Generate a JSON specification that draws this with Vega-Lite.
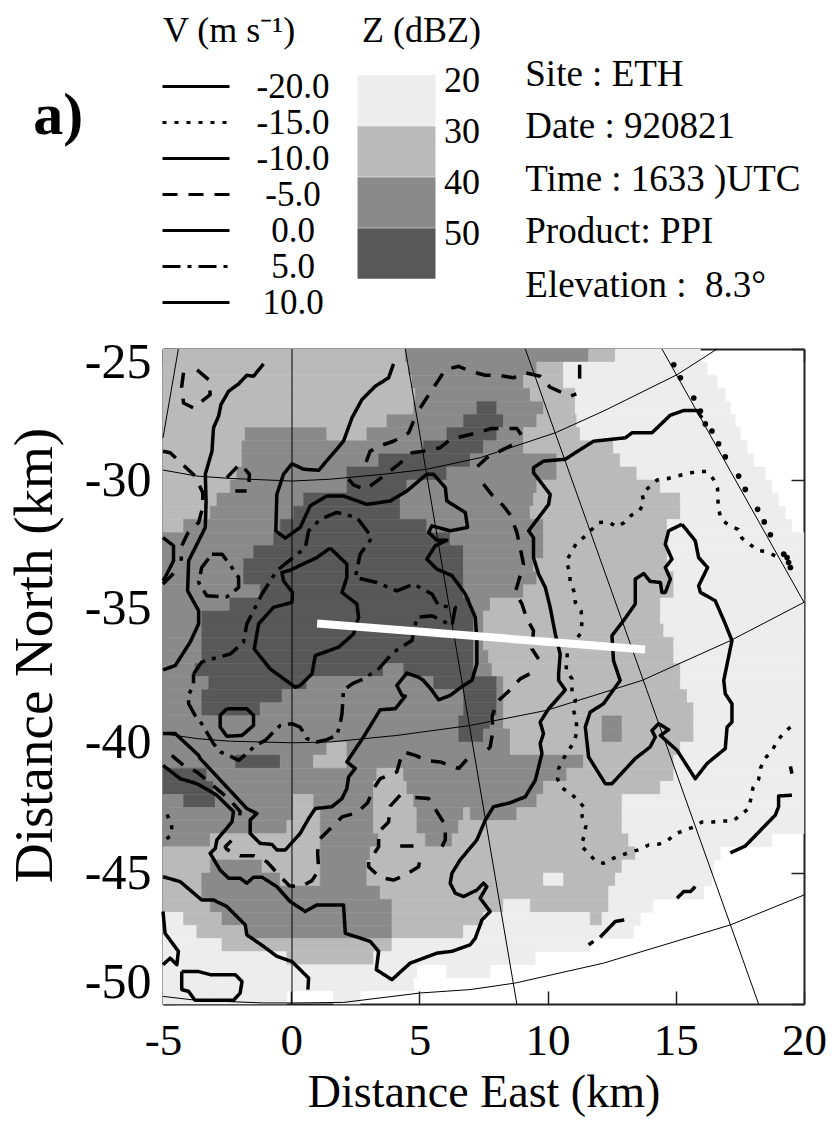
{"$schema":"https://vega.github.io/schema/vega-lite/v6.json","autosize":{"type":"none"},"padding":{"left":163,"top":349,"right":28,"bottom":120},"width":641,"height":655,"background":"white",
"config":{"view":{"stroke":null},"font":"Liberation Serif"},
"datasets":{
"cells":[
{"y":-25,"y2":-25.5,"x":-5,"x2":4.45,"z":"30"},{"y":-25,"y2":-25.5,"x":4.45,"x2":11.6,"z":"40"},{"y":-25,"y2":-25.5,"x":11.6,"x2":12.64,"z":"30"},{"y":-25,"y2":-25.5,"x":12.64,"x2":15.96,"z":"20"},
{"y":-25.5,"y2":-26,"x":-5,"x2":4.58,"z":"30"},{"y":-25.5,"y2":-26,"x":4.58,"x2":9.58,"z":"40"},{"y":-25.5,"y2":-26,"x":9.58,"x2":10.62,"z":"30"},{"y":-25.5,"y2":-26,"x":10.62,"x2":16.22,"z":"20"},
{"y":-26,"y2":-26.5,"x":-5,"x2":4.71,"z":"30"},{"y":-26,"y2":-26.5,"x":4.71,"x2":9.06,"z":"40"},{"y":-26,"y2":-26.5,"x":9.06,"x2":10.62,"z":"30"},{"y":-26,"y2":-26.5,"x":10.62,"x2":16.61,"z":"20"},
{"y":-26.5,"y2":-27,"x":-5,"x2":4.84,"z":"30"},{"y":-26.5,"y2":-27,"x":4.84,"x2":9.32,"z":"40"},{"y":-26.5,"y2":-27,"x":9.32,"x2":11.08,"z":"30"},{"y":-26.5,"y2":-27,"x":11.08,"x2":16.93,"z":"20"},
{"y":-27,"y2":-27.5,"x":-5,"x2":4.77,"z":"30"},{"y":-27,"y2":-27.5,"x":4.77,"x2":7.24,"z":"40"},{"y":-27,"y2":-27.5,"x":7.24,"x2":8.02,"z":"50"},{"y":-27,"y2":-27.5,"x":8.02,"x2":9.84,"z":"40"},{"y":-27,"y2":-27.5,"x":9.84,"x2":11.08,"z":"30"},{"y":-27,"y2":-27.5,"x":11.08,"x2":17.13,"z":"20"},
{"y":-27.5,"y2":-28,"x":-5,"x2":3.73,"z":"30"},{"y":-27.5,"y2":-28,"x":3.73,"x2":6.72,"z":"40"},{"y":-27.5,"y2":-28,"x":6.72,"x2":8.28,"z":"50"},{"y":-27.5,"y2":-28,"x":8.28,"x2":9.58,"z":"40"},{"y":-27.5,"y2":-28,"x":9.58,"x2":11.14,"z":"30"},{"y":-27.5,"y2":-28,"x":11.14,"x2":17.32,"z":"20"},
{"y":-28,"y2":-28.5,"x":-5,"x2":-1.8,"z":"30"},{"y":-28,"y2":-28.5,"x":-1.8,"x2":1.39,"z":"40"},{"y":-28,"y2":-28.5,"x":1.39,"x2":2.95,"z":"30"},{"y":-28,"y2":-28.5,"x":2.95,"x2":6.07,"z":"40"},{"y":-28,"y2":-28.5,"x":6.07,"x2":8.02,"z":"50"},{"y":-28,"y2":-28.5,"x":8.02,"x2":9.06,"z":"40"},{"y":-28,"y2":-28.5,"x":9.06,"x2":11.27,"z":"30"},{"y":-28,"y2":-28.5,"x":11.27,"x2":17.52,"z":"20"},
{"y":-28.5,"y2":-29,"x":-5,"x2":-1.92,"z":"30"},{"y":-28.5,"y2":-29,"x":-1.92,"x2":5.16,"z":"40"},{"y":-28.5,"y2":-29,"x":5.16,"x2":7.5,"z":"50"},{"y":-28.5,"y2":-29,"x":7.5,"x2":9.06,"z":"40"},{"y":-28.5,"y2":-29,"x":9.06,"x2":12.57,"z":"30"},{"y":-28.5,"y2":-29,"x":12.57,"x2":17.78,"z":"20"},
{"y":-29,"y2":-29.5,"x":-5,"x2":-1.92,"z":"30"},{"y":-29,"y2":-29.5,"x":-1.92,"x2":3.41,"z":"40"},{"y":-29,"y2":-29.5,"x":3.41,"x2":6.98,"z":"50"},{"y":-29,"y2":-29.5,"x":6.98,"x2":10.36,"z":"40"},{"y":-29,"y2":-29.5,"x":10.36,"x2":12.83,"z":"30"},{"y":-29,"y2":-29.5,"x":12.83,"x2":18.04,"z":"20"},
{"y":-29.5,"y2":-30,"x":-5,"x2":-2.12,"z":"30"},{"y":-29.5,"y2":-30,"x":-2.12,"x2":2.17,"z":"40"},{"y":-29.5,"y2":-30,"x":2.17,"x2":6.07,"z":"50"},{"y":-29.5,"y2":-30,"x":6.07,"x2":10.36,"z":"40"},{"y":-29.5,"y2":-30,"x":10.36,"x2":13.48,"z":"30"},{"y":-29.5,"y2":-30,"x":13.48,"x2":18.49,"z":"20"},
{"y":-30,"y2":-30.5,"x":-5,"x2":-2.38,"z":"30"},{"y":-30,"y2":-30.5,"x":-2.38,"x2":2.17,"z":"40"},{"y":-30,"y2":-30.5,"x":2.17,"x2":4.51,"z":"50"},{"y":-30,"y2":-30.5,"x":4.51,"x2":9.58,"z":"40"},{"y":-30,"y2":-30.5,"x":9.58,"x2":14.4,"z":"30"},{"y":-30,"y2":-30.5,"x":14.4,"x2":18.75,"z":"20"},
{"y":-30.5,"y2":-31,"x":-5,"x2":-2.9,"z":"30"},{"y":-30.5,"y2":-31,"x":-2.9,"x2":0.48,"z":"40"},{"y":-30.5,"y2":-31,"x":0.48,"x2":4.25,"z":"50"},{"y":-30.5,"y2":-31,"x":4.25,"x2":9.45,"z":"40"},{"y":-30.5,"y2":-31,"x":9.45,"x2":15.18,"z":"30"},{"y":-30.5,"y2":-31,"x":15.18,"x2":19.01,"z":"20"},
{"y":-31,"y2":-31.5,"x":-5,"x2":-3.16,"z":"30"},{"y":-31,"y2":-31.5,"x":-3.16,"x2":0.09,"z":"40"},{"y":-31,"y2":-31.5,"x":0.09,"x2":4.25,"z":"50"},{"y":-31,"y2":-31.5,"x":4.25,"x2":9.32,"z":"40"},{"y":-31,"y2":-31.5,"x":9.32,"x2":15.18,"z":"30"},{"y":-31,"y2":-31.5,"x":15.18,"x2":19.27,"z":"20"},
{"y":-31.5,"y2":-32,"x":-5,"x2":-4.2,"z":"30"},{"y":-31.5,"y2":-32,"x":-4.2,"x2":-0.43,"z":"40"},{"y":-31.5,"y2":-32,"x":-0.43,"x2":5.29,"z":"50"},{"y":-31.5,"y2":-32,"x":5.29,"x2":9.84,"z":"40"},{"y":-31.5,"y2":-32,"x":9.84,"x2":14.66,"z":"30"},{"y":-31.5,"y2":-32,"x":14.66,"x2":19.53,"z":"20"},
{"y":-32,"y2":-32.5,"x":-5,"x2":-0.69,"z":"40"},{"y":-32,"y2":-32.5,"x":-0.69,"x2":6.2,"z":"50"},{"y":-32,"y2":-32.5,"x":6.2,"x2":9.84,"z":"40"},{"y":-32,"y2":-32.5,"x":9.84,"x2":14.66,"z":"30"},{"y":-32,"y2":-32.5,"x":14.66,"x2":20,"z":"20"},
{"y":-32.5,"y2":-33,"x":-5,"x2":-1.47,"z":"40"},{"y":-32.5,"y2":-33,"x":-1.47,"x2":6.72,"z":"50"},{"y":-32.5,"y2":-33,"x":6.72,"x2":9.84,"z":"40"},{"y":-32.5,"y2":-33,"x":9.84,"x2":14.66,"z":"30"},{"y":-32.5,"y2":-33,"x":14.66,"x2":20,"z":"20"},
{"y":-33,"y2":-33.5,"x":-5,"x2":-1.86,"z":"40"},{"y":-33,"y2":-33.5,"x":-1.86,"x2":6.72,"z":"50"},{"y":-33,"y2":-33.5,"x":6.72,"x2":9.45,"z":"40"},{"y":-33,"y2":-33.5,"x":9.45,"x2":14.66,"z":"30"},{"y":-33,"y2":-33.5,"x":14.66,"x2":20,"z":"20"},
{"y":-33.5,"y2":-34,"x":-5,"x2":-1.86,"z":"40"},{"y":-33.5,"y2":-34,"x":-1.86,"x2":6.72,"z":"50"},{"y":-33.5,"y2":-34,"x":6.72,"x2":9.58,"z":"40"},{"y":-33.5,"y2":-34,"x":9.58,"x2":14.92,"z":"30"},{"y":-33.5,"y2":-34,"x":14.92,"x2":20,"z":"20"},
{"y":-34,"y2":-34.5,"x":-5,"x2":-1.21,"z":"40"},{"y":-34,"y2":-34.5,"x":-1.21,"x2":6.72,"z":"50"},{"y":-34,"y2":-34.5,"x":6.72,"x2":9.06,"z":"40"},{"y":-34,"y2":-34.5,"x":9.06,"x2":14.92,"z":"30"},{"y":-34,"y2":-34.5,"x":14.92,"x2":20,"z":"20"},
{"y":-34.5,"y2":-35,"x":-5,"x2":-2.4,"z":"40"},{"y":-34.5,"y2":-35,"x":-2.4,"x2":7,"z":"50"},{"y":-34.5,"y2":-35,"x":7,"x2":7.76,"z":"40"},{"y":-34.5,"y2":-35,"x":7.76,"x2":14.4,"z":"30"},{"y":-34.5,"y2":-35,"x":14.4,"x2":20,"z":"20"},
{"y":-35,"y2":-35.5,"x":-5,"x2":-3.49,"z":"40"},{"y":-35,"y2":-35.5,"x":-3.49,"x2":7.11,"z":"50"},{"y":-35,"y2":-35.5,"x":7.11,"x2":7.5,"z":"40"},{"y":-35,"y2":-35.5,"x":7.5,"x2":14.4,"z":"30"},{"y":-35,"y2":-35.5,"x":14.4,"x2":20,"z":"20"},
{"y":-35.5,"y2":-36,"x":-5,"x2":-3.49,"z":"40"},{"y":-35.5,"y2":-36,"x":-3.49,"x2":7.11,"z":"50"},{"y":-35.5,"y2":-36,"x":7.11,"x2":7.5,"z":"40"},{"y":-35.5,"y2":-36,"x":7.5,"x2":14.53,"z":"30"},{"y":-35.5,"y2":-36,"x":14.53,"x2":20,"z":"20"},
{"y":-36,"y2":-36.5,"x":-5,"x2":-3.49,"z":"40"},{"y":-36,"y2":-36.5,"x":-3.49,"x2":7.11,"z":"50"},{"y":-36,"y2":-36.5,"x":7.11,"x2":7.5,"z":"40"},{"y":-36,"y2":-36.5,"x":7.5,"x2":14.92,"z":"30"},{"y":-36,"y2":-36.5,"x":14.92,"x2":20,"z":"20"},
{"y":-36.5,"y2":-37,"x":-5,"x2":-3.49,"z":"40"},{"y":-36.5,"y2":-37,"x":-3.49,"x2":7.11,"z":"50"},{"y":-36.5,"y2":-37,"x":7.11,"x2":7.7,"z":"40"},{"y":-36.5,"y2":-37,"x":7.7,"x2":14.92,"z":"30"},{"y":-36.5,"y2":-37,"x":14.92,"x2":20,"z":"20"},
{"y":-37,"y2":-37.5,"x":-5,"x2":-3.75,"z":"40"},{"y":-37,"y2":-37.5,"x":-3.75,"x2":3.6,"z":"50"},{"y":-37,"y2":-37.5,"x":3.6,"x2":4.38,"z":"40"},{"y":-37,"y2":-37.5,"x":4.38,"x2":7.11,"z":"50"},{"y":-37,"y2":-37.5,"x":7.11,"x2":7.83,"z":"40"},{"y":-37,"y2":-37.5,"x":7.83,"x2":15.18,"z":"30"},{"y":-37,"y2":-37.5,"x":15.18,"x2":20,"z":"20"},
{"y":-37.5,"y2":-38,"x":-5,"x2":-3.22,"z":"40"},{"y":-37.5,"y2":-38,"x":-3.22,"x2":0.61,"z":"50"},{"y":-37.5,"y2":-38,"x":0.61,"x2":5.55,"z":"40"},{"y":-37.5,"y2":-38,"x":5.55,"x2":8.02,"z":"50"},{"y":-37.5,"y2":-38,"x":8.02,"x2":8.28,"z":"40"},{"y":-37.5,"y2":-38,"x":8.28,"x2":15.18,"z":"30"},{"y":-37.5,"y2":-38,"x":15.18,"x2":20,"z":"20"},
{"y":-38,"y2":-38.5,"x":-5,"x2":-3.49,"z":"40"},{"y":-38,"y2":-38.5,"x":-3.49,"x2":-0.36,"z":"50"},{"y":-38,"y2":-38.5,"x":-0.36,"x2":6.72,"z":"40"},{"y":-38,"y2":-38.5,"x":6.72,"x2":8.02,"z":"50"},{"y":-38,"y2":-38.5,"x":8.02,"x2":8.28,"z":"40"},{"y":-38,"y2":-38.5,"x":8.28,"x2":15.44,"z":"30"},{"y":-38,"y2":-38.5,"x":15.44,"x2":20,"z":"20"},
{"y":-38.5,"y2":-39,"x":-5,"x2":-3.49,"z":"40"},{"y":-38.5,"y2":-39,"x":-3.49,"x2":-1.21,"z":"50"},{"y":-38.5,"y2":-39,"x":-1.21,"x2":6.72,"z":"40"},{"y":-38.5,"y2":-39,"x":6.72,"x2":8.02,"z":"50"},{"y":-38.5,"y2":-39,"x":8.02,"x2":8.28,"z":"40"},{"y":-38.5,"y2":-39,"x":8.28,"x2":15.7,"z":"30"},{"y":-38.5,"y2":-39,"x":15.7,"x2":20,"z":"20"},
{"y":-39,"y2":-39.5,"x":-5,"x2":6.53,"z":"40"},{"y":-39,"y2":-39.5,"x":6.53,"x2":7.76,"z":"50"},{"y":-39,"y2":-39.5,"x":7.76,"x2":8.28,"z":"40"},{"y":-39,"y2":-39.5,"x":8.28,"x2":12.12,"z":"30"},{"y":-39,"y2":-39.5,"x":12.12,"x2":12.9,"z":"40"},{"y":-39,"y2":-39.5,"x":12.9,"x2":15.7,"z":"30"},{"y":-39,"y2":-39.5,"x":15.7,"x2":20,"z":"20"},
{"y":-39.5,"y2":-40,"x":-5,"x2":6.53,"z":"40"},{"y":-39.5,"y2":-40,"x":6.53,"x2":7.5,"z":"50"},{"y":-39.5,"y2":-40,"x":7.5,"x2":8.54,"z":"40"},{"y":-39.5,"y2":-40,"x":8.54,"x2":12.12,"z":"30"},{"y":-39.5,"y2":-40,"x":12.12,"x2":12.9,"z":"40"},{"y":-39.5,"y2":-40,"x":12.9,"x2":15.7,"z":"30"},{"y":-39.5,"y2":-40,"x":15.7,"x2":20,"z":"20"},
{"y":-40,"y2":-40.5,"x":-5,"x2":1.39,"z":"40"},{"y":-40,"y2":-40.5,"x":1.39,"x2":2.17,"z":"30"},{"y":-40,"y2":-40.5,"x":2.17,"x2":8.54,"z":"40"},{"y":-40,"y2":-40.5,"x":8.54,"x2":15.18,"z":"30"},{"y":-40,"y2":-40.5,"x":15.18,"x2":20,"z":"20"},
{"y":-40.5,"y2":-41,"x":-5,"x2":-2.18,"z":"40"},{"y":-40.5,"y2":-41,"x":-2.18,"x2":-0.43,"z":"50"},{"y":-40.5,"y2":-41,"x":-0.43,"x2":0.87,"z":"40"},{"y":-40.5,"y2":-41,"x":0.87,"x2":2.17,"z":"30"},{"y":-40.5,"y2":-41,"x":2.17,"x2":11.4,"z":"40"},{"y":-40.5,"y2":-41,"x":11.4,"x2":14.92,"z":"30"},{"y":-40.5,"y2":-41,"x":14.92,"x2":20,"z":"20"},
{"y":-41,"y2":-41.5,"x":-5,"x2":-3.29,"z":"50"},{"y":-41,"y2":-41.5,"x":-3.29,"x2":3.34,"z":"40"},{"y":-41,"y2":-41.5,"x":3.34,"x2":4.38,"z":"30"},{"y":-41,"y2":-41.5,"x":4.38,"x2":10.75,"z":"40"},{"y":-41,"y2":-41.5,"x":10.75,"x2":14.92,"z":"30"},{"y":-41,"y2":-41.5,"x":14.92,"x2":20,"z":"20"},
{"y":-41.5,"y2":-42,"x":-5,"x2":-3.03,"z":"50"},{"y":-41.5,"y2":-42,"x":-3.03,"x2":3.21,"z":"40"},{"y":-41.5,"y2":-42,"x":3.21,"x2":4.51,"z":"30"},{"y":-41.5,"y2":-42,"x":4.51,"x2":9.84,"z":"40"},{"y":-41.5,"y2":-42,"x":9.84,"x2":14.4,"z":"30"},{"y":-41.5,"y2":-42,"x":14.4,"x2":20,"z":"20"},
{"y":-42,"y2":-42.5,"x":-5,"x2":-4.2,"z":"40"},{"y":-42,"y2":-42.5,"x":-4.2,"x2":-2.96,"z":"50"},{"y":-42,"y2":-42.5,"x":-2.96,"x2":0.09,"z":"40"},{"y":-42,"y2":-42.5,"x":0.09,"x2":0.87,"z":"30"},{"y":-42,"y2":-42.5,"x":0.87,"x2":3.21,"z":"40"},{"y":-42,"y2":-42.5,"x":3.21,"x2":4.77,"z":"30"},{"y":-42,"y2":-42.5,"x":4.77,"x2":9.58,"z":"40"},{"y":-42,"y2":-42.5,"x":9.58,"x2":12.9,"z":"30"},{"y":-42,"y2":-42.5,"x":12.9,"x2":20,"z":"20"},
{"y":-42.5,"y2":-43,"x":-5,"x2":0.09,"z":"40"},{"y":-42.5,"y2":-43,"x":0.09,"x2":1.13,"z":"30"},{"y":-42.5,"y2":-43,"x":1.13,"x2":3.21,"z":"40"},{"y":-42.5,"y2":-43,"x":3.21,"x2":4.9,"z":"30"},{"y":-42.5,"y2":-43,"x":4.9,"x2":6.72,"z":"40"},{"y":-42.5,"y2":-43,"x":6.72,"x2":6.98,"z":"30"},{"y":-42.5,"y2":-43,"x":6.98,"x2":8.8,"z":"40"},{"y":-42.5,"y2":-43,"x":8.8,"x2":12.9,"z":"30"},{"y":-42.5,"y2":-43,"x":12.9,"x2":20,"z":"20"},
{"y":-43,"y2":-43.5,"x":-5,"x2":-0.17,"z":"40"},{"y":-43,"y2":-43.5,"x":-0.17,"x2":1.13,"z":"30"},{"y":-43,"y2":-43.5,"x":1.13,"x2":3.21,"z":"40"},{"y":-43,"y2":-43.5,"x":3.21,"x2":4.9,"z":"30"},{"y":-43,"y2":-43.5,"x":4.9,"x2":6.53,"z":"40"},{"y":-43,"y2":-43.5,"x":6.53,"x2":12.9,"z":"30"},{"y":-43,"y2":-43.5,"x":12.9,"x2":20,"z":"20"},
{"y":-43.5,"y2":-44,"x":-5,"x2":-3.16,"z":"40"},{"y":-43.5,"y2":-44,"x":-3.16,"x2":1.13,"z":"30"},{"y":-43.5,"y2":-44,"x":1.13,"x2":3.41,"z":"40"},{"y":-43.5,"y2":-44,"x":3.41,"x2":5.23,"z":"30"},{"y":-43.5,"y2":-44,"x":5.23,"x2":6.27,"z":"40"},{"y":-43.5,"y2":-44,"x":6.27,"x2":13.16,"z":"30"},{"y":-43.5,"y2":-44,"x":13.16,"x2":18.75,"z":"20"},
{"y":-44,"y2":-44.5,"x":-5,"x2":1.13,"z":"30"},{"y":-44,"y2":-44.5,"x":1.13,"x2":3.08,"z":"40"},{"y":-44,"y2":-44.5,"x":3.08,"x2":13.42,"z":"30"},{"y":-44,"y2":-44.5,"x":13.42,"x2":16.74,"z":"20"},
{"y":-44.5,"y2":-45,"x":-5,"x2":-3.16,"z":"30"},{"y":-44.5,"y2":-45,"x":-3.16,"x2":-1.14,"z":"40"},{"y":-44.5,"y2":-45,"x":-1.14,"x2":1.13,"z":"30"},{"y":-44.5,"y2":-45,"x":1.13,"x2":2.95,"z":"40"},{"y":-44.5,"y2":-45,"x":2.95,"x2":12.9,"z":"30"},{"y":-44.5,"y2":-45,"x":12.9,"x2":16.48,"z":"20"},
{"y":-45,"y2":-45.5,"x":-5,"x2":-3.49,"z":"30"},{"y":-45,"y2":-45.5,"x":-3.49,"x2":-0.43,"z":"40"},{"y":-45,"y2":-45.5,"x":-0.43,"x2":1.13,"z":"30"},{"y":-45,"y2":-45.5,"x":1.13,"x2":2.95,"z":"40"},{"y":-45,"y2":-45.5,"x":2.95,"x2":9.84,"z":"30"},{"y":-45,"y2":-45.5,"x":9.84,"x2":10.62,"z":"20"},{"y":-45,"y2":-45.5,"x":10.62,"x2":12.64,"z":"30"},{"y":-45,"y2":-45.5,"x":12.64,"x2":16.41,"z":"20"},
{"y":-45.5,"y2":-46,"x":-5,"x2":-3.49,"z":"30"},{"y":-45.5,"y2":-46,"x":-3.49,"x2":3.47,"z":"40"},{"y":-45.5,"y2":-46,"x":3.47,"x2":12.38,"z":"30"},{"y":-45.5,"y2":-46,"x":12.38,"x2":16.09,"z":"20"},
{"y":-46,"y2":-46.5,"x":-5,"x2":-3.16,"z":"30"},{"y":-46,"y2":-46.5,"x":-3.16,"x2":3.93,"z":"40"},{"y":-46,"y2":-46.5,"x":3.93,"x2":8.28,"z":"30"},{"y":-46,"y2":-46.5,"x":8.28,"x2":9.32,"z":"20"},{"y":-46,"y2":-46.5,"x":9.32,"x2":12.38,"z":"30"},{"y":-46,"y2":-46.5,"x":12.38,"x2":14.1,"z":"20"},
{"y":-46.5,"y2":-47,"x":-5,"x2":-4.2,"z":"20"},{"y":-46.5,"y2":-47,"x":-4.2,"x2":-2.7,"z":"30"},{"y":-46.5,"y2":-47,"x":-2.7,"x2":3.93,"z":"40"},{"y":-46.5,"y2":-47,"x":3.93,"x2":7.5,"z":"30"},{"y":-46.5,"y2":-47,"x":7.5,"x2":11.66,"z":"20"},{"y":-46.5,"y2":-47,"x":11.66,"x2":12.12,"z":"30"},{"y":-46.5,"y2":-47,"x":12.12,"x2":13.61,"z":"20"},
{"y":-47,"y2":-47.5,"x":-5,"x2":-3.68,"z":"20"},{"y":-47,"y2":-47.5,"x":-3.68,"x2":-1.73,"z":"30"},{"y":-47,"y2":-47.5,"x":-1.73,"x2":3.93,"z":"40"},{"y":-47,"y2":-47.5,"x":3.93,"x2":6.72,"z":"30"},{"y":-47,"y2":-47.5,"x":6.72,"x2":13.35,"z":"20"},
{"y":-47.5,"y2":-48,"x":-5,"x2":-2.7,"z":"20"},{"y":-47.5,"y2":-48,"x":-2.7,"x2":3.93,"z":"30"},{"y":-47.5,"y2":-48,"x":3.93,"x2":11.66,"z":"20"},
{"y":-48,"y2":-48.5,"x":-5,"x2":-0.17,"z":"20"},{"y":-48,"y2":-48.5,"x":-0.17,"x2":3.21,"z":"30"},{"y":-48,"y2":-48.5,"x":3.21,"x2":9.52,"z":"20"},
{"y":-48.5,"y2":-49,"x":-5,"x2":4.9,"z":"20"},{"y":-48.5,"y2":-49,"x":6.07,"x2":7.76,"z":"20"},
{"y":-49,"y2":-49.5,"x":-5,"x2":4.77,"z":"20"},
{"y":-49.5,"y2":-50,"x":-5,"x2":-0.17,"z":"20"},{"y":-49.5,"y2":-50,"x":1.65,"x2":2.69,"z":"20"}
],
"grid":[
{"c":"r1","x":-5,"y":-29.62},{"c":"r1","x":-3.68,"y":-29.85},{"c":"r1","x":-2.38,"y":-29.94},{"c":"r1","x":0.03,"y":-30.04},{"c":"r1","x":1.52,"y":-29.97},{"c":"r1","x":3.6,"y":-29.78},{"c":"r1","x":5.29,"y":-29.59},{"c":"r1","x":7.37,"y":-29.15},{"c":"r1","x":10.3,"y":-28.2},{"c":"r1","x":12.18,"y":-27.37},{"c":"r1","x":15.05,"y":-25.98},{"c":"r1","x":16.61,"y":-25},
{"c":"r2","x":-5,"y":-39.68},{"c":"r2","x":-3.68,"y":-39.87},{"c":"r2","x":-2.38,"y":-39.97},{"c":"r2","x":0.03,"y":-40.03},{"c":"r2","x":1.52,"y":-40},{"c":"r2","x":4.12,"y":-39.75},{"c":"r2","x":6.98,"y":-39.37},{"c":"r2","x":9.97,"y":-38.79},{"c":"r2","x":13.68,"y":-37.65},{"c":"r2","x":17.13,"y":-36.13},{"c":"r2","x":20,"y":-34.67},
{"c":"r3","x":-5,"y":-49.71},{"c":"r3","x":-3.68,"y":-49.86},{"c":"r3","x":-1.08,"y":-49.96},{"c":"r3","x":0.09,"y":-49.96},{"c":"r3","x":2.04,"y":-49.94},{"c":"r3","x":5.03,"y":-49.58},{"c":"r3","x":6.98,"y":-49.45},{"c":"r3","x":8.74,"y":-49.2},{"c":"r3","x":12.18,"y":-48.44},{"c":"r3","x":17.13,"y":-46.98},{"c":"r3","x":20,"y":-45.84},
{"c":"a0","x":0.03,"y":-25},{"c":"a0","x":0.03,"y":-50},
{"c":"a1","x":-4.4,"y":-25},{"c":"a1","x":-5,"y":-28.39},
{"c":"a2","x":4.45,"y":-25},{"c":"a2","x":8.8,"y":-50},
{"c":"a3","x":9.13,"y":-25},{"c":"a3","x":18.23,"y":-50},
{"c":"a4","x":14.46,"y":-25},{"c":"a4","x":20,"y":-34.67}
],
"contours":[
{"c":"A","v":"0.0","x":-1.08,"y":-25.57},{"c":"A","v":"0.0","x":-1.47,"y":-26.04},{"c":"A","v":"0.0","x":-1.73,"y":-26},{"c":"A","v":"0.0","x":-2.05,"y":-26.33},{"c":"A","v":"0.0","x":-2.44,"y":-26.61},{"c":"A","v":"0.0","x":-2.74,"y":-27.12},{"c":"A","v":"0.0","x":-2.83,"y":-27.56},{"c":"A","v":"0.0","x":-3.03,"y":-28.01},{"c":"A","v":"0.0","x":-3.09,"y":-28.9},{"c":"A","v":"0.0","x":-3.35,"y":-29.78},{"c":"A","v":"0.0","x":-3.32,"y":-30.8},{"c":"A","v":"0.0","x":-3.35,"y":-31.81},{"c":"A","v":"0.0","x":-3.61,"y":-32.32},{"c":"A","v":"0.0","x":-4,"y":-33.08},{"c":"A","v":"0.0","x":-4.04,"y":-34.23},{"c":"A","v":"0.0","x":-3.61,"y":-34.99},{"c":"A","v":"0.0","x":-3.61,"y":-35.49},{"c":"A","v":"0.0","x":-3.94,"y":-36.19},{"c":"A","v":"0.0","x":-4.52,"y":-37.08},{"c":"A","v":"0.0","x":-5,"y":-37.25},
{"c":"B","v":"0.0","x":3.99,"y":-25.57},{"c":"B","v":"0.0","x":3.8,"y":-26.1},{"c":"B","v":"0.0","x":3.28,"y":-26.42},{"c":"B","v":"0.0","x":2.76,"y":-26.93},{"c":"B","v":"0.0","x":2.37,"y":-27.63},{"c":"B","v":"0.0","x":2.04,"y":-28.52},{"c":"B","v":"0.0","x":1.07,"y":-29.63},{"c":"B","v":"0.0","x":0.48,"y":-29.59},{"c":"B","v":"0.0","x":0.03,"y":-29.38},{"c":"B","v":"0.0","x":-0.3,"y":-29.78},{"c":"B","v":"0.0","x":-0.56,"y":-30.55},{"c":"B","v":"0.0","x":-0.6,"y":-31.94},{"c":"B","v":"0.0","x":-0.23,"y":-32.22},{"c":"B","v":"0.0","x":0.35,"y":-31.81},{"c":"B","v":"0.0","x":0.74,"y":-30.99},{"c":"B","v":"0.0","x":1.39,"y":-30.61},{"c":"B","v":"0.0","x":2.04,"y":-30.61},{"c":"B","v":"0.0","x":2.95,"y":-30.93},{"c":"B","v":"0.0","x":3.86,"y":-30.8},{"c":"B","v":"0.0","x":4.51,"y":-30.42},{"c":"B","v":"0.0","x":5.29,"y":-29.78},{"c":"B","v":"0.0","x":5.55,"y":-29.78},{"c":"B","v":"0.0","x":6.01,"y":-30.29},{"c":"B","v":"0.0","x":6.07,"y":-30.8},{"c":"B","v":"0.0","x":6.79,"y":-31.24},{"c":"B","v":"0.0","x":6.88,"y":-31.81},{"c":"B","v":"0.0","x":6.2,"y":-31.94},{"c":"B","v":"0.0","x":5.49,"y":-31.75},{"c":"B","v":"0.0","x":5.36,"y":-32},{"c":"B","v":"0.0","x":5.68,"y":-32.3},{"c":"B","v":"0.0","x":6.07,"y":-32.3},{"c":"B","v":"0.0","x":5.62,"y":-32.51},{"c":"B","v":"0.0","x":5.29,"y":-33.02},{"c":"B","v":"0.0","x":5.68,"y":-33.4},{"c":"B","v":"0.0","x":6.27,"y":-33.65},{"c":"B","v":"0.0","x":6.79,"y":-34.35},{"c":"B","v":"0.0","x":7.18,"y":-35.24},{"c":"B","v":"0.0","x":7.24,"y":-36.13},{"c":"B","v":"0.0","x":7.24,"y":-37.02},{"c":"B","v":"0.0","x":7.05,"y":-37.65},{"c":"B","v":"0.0","x":6.72,"y":-37.84},{"c":"B","v":"0.0","x":6.2,"y":-38.22},{"c":"B","v":"0.0","x":5.75,"y":-38.39},{"c":"B","v":"0.0","x":5.49,"y":-38.03},{"c":"B","v":"0.0","x":5.16,"y":-37.65},{"c":"B","v":"0.0","x":4.97,"y":-37.53},{"c":"B","v":"0.0","x":4.51,"y":-37.37},{"c":"B","v":"0.0","x":4.12,"y":-37.84},{"c":"B","v":"0.0","x":4.32,"y":-38.22},{"c":"B","v":"0.0","x":4.45,"y":-38.25},{"c":"B","v":"0.0","x":4.06,"y":-38.73},{"c":"B","v":"0.0","x":3.47,"y":-38.77},{"c":"B","v":"0.0","x":2.82,"y":-39.81},{"c":"B","v":"0.0","x":2.17,"y":-40.76},{"c":"B","v":"0.0","x":2.5,"y":-41.01},{"c":"B","v":"0.0","x":2.24,"y":-41.33},{"c":"B","v":"0.0","x":2.17,"y":-41.78},{"c":"B","v":"0.0","x":1.98,"y":-42.16},{"c":"B","v":"0.0","x":1.59,"y":-42.47},{"c":"B","v":"0.0","x":0.94,"y":-42.54},{"c":"B","v":"0.0","x":0.68,"y":-42.92},{"c":"B","v":"0.0","x":0.35,"y":-43.49},{"c":"B","v":"0.0","x":-0.23,"y":-44.12},{"c":"B","v":"0.0","x":-0.56,"y":-44.12},{"c":"B","v":"0.0","x":-0.75,"y":-43.91},{"c":"B","v":"0.0","x":-1.21,"y":-43.87},{"c":"B","v":"0.0","x":-1.6,"y":-43.49},{"c":"B","v":"0.0","x":-1.6,"y":-42.98},{"c":"B","v":"0.0","x":-1.34,"y":-42.73},{"c":"B","v":"0.0","x":-1.73,"y":-42.54},{"c":"B","v":"0.0","x":-3.55,"y":-40.63},{"c":"B","v":"0.0","x":-3.61,"y":-40.51},{"c":"B","v":"0.0","x":-4.52,"y":-39.68},{"c":"B","v":"0.0","x":-5,"y":-39.68},
{"c":"C","v":"10.0","x":1.52,"y":-32.6},{"c":"C","v":"10.0","x":1,"y":-32.96},{"c":"C","v":"10.0","x":-0.04,"y":-33.44},{"c":"C","v":"10.0","x":-0.36,"y":-33.53},{"c":"C","v":"10.0","x":-0.3,"y":-33.85},{"c":"C","v":"10.0","x":0.05,"y":-34.29},{"c":"C","v":"10.0","x":0.03,"y":-34.67},{"c":"C","v":"10.0","x":-0.69,"y":-34.86},{"c":"C","v":"10.0","x":-1.27,"y":-35.49},{"c":"C","v":"10.0","x":-1.44,"y":-36.45},{"c":"C","v":"10.0","x":-0.82,"y":-37.21},{"c":"C","v":"10.0","x":0.16,"y":-37.91},{"c":"C","v":"10.0","x":0.35,"y":-37.84},{"c":"C","v":"10.0","x":0.81,"y":-37.4},{"c":"C","v":"10.0","x":0.94,"y":-36.7},{"c":"C","v":"10.0","x":1.85,"y":-36.38},{"c":"C","v":"10.0","x":2.43,"y":-35.88},{"c":"C","v":"10.0","x":2.63,"y":-35.24},{"c":"C","v":"10.0","x":2.56,"y":-34.73},{"c":"C","v":"10.0","x":1.98,"y":-34.29},{"c":"C","v":"10.0","x":2.17,"y":-33.72},{"c":"C","v":"10.0","x":2.17,"y":-33.21},{"c":"C","v":"10.0","x":1.52,"y":-32.6},
{"c":"D","v":"10.0","x":-2.51,"y":-38.73},{"c":"D","v":"10.0","x":-1.73,"y":-38.73},{"c":"D","v":"10.0","x":-1.47,"y":-38.98},{"c":"D","v":"10.0","x":-1.47,"y":-39.37},{"c":"D","v":"10.0","x":-1.92,"y":-39.75},{"c":"D","v":"10.0","x":-2.51,"y":-39.78},{"c":"D","v":"10.0","x":-2.77,"y":-39.43},{"c":"D","v":"10.0","x":-2.77,"y":-38.98},{"c":"D","v":"10.0","x":-2.51,"y":-38.73},
{"c":"E","v":"-10.0","x":-5,"y":-40.89},{"c":"E","v":"-10.0","x":-4.33,"y":-41.4},{"c":"E","v":"-10.0","x":-3.68,"y":-41.59},{"c":"E","v":"-10.0","x":-2.9,"y":-42.03},{"c":"E","v":"-10.0","x":-2.25,"y":-42.66},{"c":"E","v":"-10.0","x":-2.31,"y":-43.05},{"c":"E","v":"-10.0","x":-2.9,"y":-43.74},{"c":"E","v":"-10.0","x":-2.96,"y":-44.06},{"c":"E","v":"-10.0","x":-3.16,"y":-44.25},{"c":"E","v":"-10.0","x":-2.77,"y":-44.89},{"c":"E","v":"-10.0","x":-2.44,"y":-45.2},{"c":"E","v":"-10.0","x":-1.99,"y":-45.2},{"c":"E","v":"-10.0","x":-1.73,"y":-45.39},{"c":"E","v":"-10.0","x":-1.47,"y":-45.16},{"c":"E","v":"-10.0","x":-1.14,"y":-45.16},{"c":"E","v":"-10.0","x":-0.56,"y":-45.52},{"c":"E","v":"-10.0","x":-0.04,"y":-46.09},{"c":"E","v":"-10.0","x":0.55,"y":-46.47},{"c":"E","v":"-10.0","x":1,"y":-46.22},{"c":"E","v":"-10.0","x":2.04,"y":-46.22},{"c":"E","v":"-10.0","x":2.11,"y":-47.3},{"c":"E","v":"-10.0","x":3.08,"y":-47.61},{"c":"E","v":"-10.0","x":3.41,"y":-47.99},{"c":"E","v":"-10.0","x":3.32,"y":-48.69},{"c":"E","v":"-10.0","x":3.93,"y":-49.07},{"c":"E","v":"-10.0","x":4.64,"y":-48.44},{"c":"E","v":"-10.0","x":5.68,"y":-48.06},{"c":"E","v":"-10.0","x":6.27,"y":-47.99},{"c":"E","v":"-10.0","x":6.98,"y":-47.74},{"c":"E","v":"-10.0","x":7.18,"y":-47.49},{"c":"E","v":"-10.0","x":7.44,"y":-46.79},{"c":"E","v":"-10.0","x":7.76,"y":-46.47},{"c":"E","v":"-10.0","x":7.37,"y":-45.96},{"c":"E","v":"-10.0","x":7.63,"y":-45.52},{"c":"E","v":"-10.0","x":7.5,"y":-45.39},{"c":"E","v":"-10.0","x":7.24,"y":-45.65},{"c":"E","v":"-10.0","x":6.72,"y":-45.9},{"c":"E","v":"-10.0","x":6.4,"y":-45.77},{"c":"E","v":"-10.0","x":6.2,"y":-45.39},{"c":"E","v":"-10.0","x":6.27,"y":-45.01},{"c":"E","v":"-10.0","x":6.59,"y":-44.5},{"c":"E","v":"-10.0","x":7.24,"y":-43.74},{"c":"E","v":"-10.0","x":7.57,"y":-42.98},{"c":"E","v":"-10.0","x":7.89,"y":-42.47},{"c":"E","v":"-10.0","x":8.54,"y":-42.32},{"c":"E","v":"-10.0","x":9.13,"y":-42.09},{"c":"E","v":"-10.0","x":9.52,"y":-41.46},{"c":"E","v":"-10.0","x":9.78,"y":-40.44},{"c":"E","v":"-10.0","x":9.71,"y":-40.06},{"c":"E","v":"-10.0","x":9.84,"y":-39.68},{"c":"E","v":"-10.0","x":9.71,"y":-39.24},{"c":"E","v":"-10.0","x":10.04,"y":-38.73},{"c":"E","v":"-10.0","x":10.56,"y":-38.16},{"c":"E","v":"-10.0","x":10.69,"y":-38.01},{"c":"E","v":"-10.0","x":10.43,"y":-37.65},{"c":"E","v":"-10.0","x":10.43,"y":-37.4},{"c":"E","v":"-10.0","x":10.49,"y":-36.64},{"c":"E","v":"-10.0","x":10.3,"y":-35.88},{"c":"E","v":"-10.0","x":10.1,"y":-34.86},{"c":"E","v":"-10.0","x":9.91,"y":-34.1},{"c":"E","v":"-10.0","x":9.65,"y":-33.59},{"c":"E","v":"-10.0","x":9.45,"y":-32.96},{"c":"E","v":"-10.0","x":9.45,"y":-32.2},{"c":"E","v":"-10.0","x":9.26,"y":-31.94},{"c":"E","v":"-10.0","x":10.04,"y":-30.93},{"c":"E","v":"-10.0","x":10.1,"y":-30.55},{"c":"E","v":"-10.0","x":9.45,"y":-29.72},{"c":"E","v":"-10.0","x":9.45,"y":-29.53},{"c":"E","v":"-10.0","x":9.84,"y":-29.28},{"c":"E","v":"-10.0","x":10.69,"y":-29.21},{"c":"E","v":"-10.0","x":11.08,"y":-28.96},{"c":"E","v":"-10.0","x":11.79,"y":-28.52},{"c":"E","v":"-10.0","x":13.03,"y":-28.39},{"c":"E","v":"-10.0","x":13.29,"y":-28.2},{"c":"E","v":"-10.0","x":14.07,"y":-28.2},{"c":"E","v":"-10.0","x":14.78,"y":-27.53},{"c":"E","v":"-10.0","x":15.3,"y":-27.35},{"c":"E","v":"-10.0","x":15.83,"y":-27.35},{"c":"E","v":"-10.0","x":16.02,"y":-27.63},
{"c":"G","v":"0.0","x":-5,"y":-45.14},{"c":"G","v":"0.0","x":-4.33,"y":-45.33},{"c":"G","v":"0.0","x":-3.49,"y":-46.03},{"c":"G","v":"0.0","x":-3.03,"y":-46.03},{"c":"G","v":"0.0","x":-2.51,"y":-46.28},{"c":"G","v":"0.0","x":-1.79,"y":-46.98},{"c":"G","v":"0.0","x":-1.73,"y":-47.36},{"c":"G","v":"0.0","x":-1.08,"y":-47.8},{"c":"G","v":"0.0","x":-0.56,"y":-48.18},{"c":"G","v":"0.0","x":0.03,"y":-48.38},{"c":"G","v":"0.0","x":0.68,"y":-49.01},{"c":"G","v":"0.0","x":0.65,"y":-49.45},
{"c":"H","v":"0.0","x":-5,"y":-46.47},{"c":"H","v":"0.0","x":-4.92,"y":-47.3},{"c":"H","v":"0.0","x":-4.4,"y":-47.99},{"c":"H","v":"0.0","x":-4.46,"y":-48.5},{"c":"H","v":"0.0","x":-4.72,"y":-48.25},{"c":"H","v":"0.0","x":-5,"y":-48.5},
{"c":"I","v":"0.0","x":-4.27,"y":-48.76},{"c":"I","v":"0.0","x":-3.62,"y":-48.76},{"c":"I","v":"0.0","x":-3.16,"y":-48.88},{"c":"I","v":"0.0","x":-2.18,"y":-48.88},{"c":"I","v":"0.0","x":-1.92,"y":-49.14},{"c":"I","v":"0.0","x":-1.99,"y":-49.58},{"c":"I","v":"0.0","x":-2.25,"y":-49.86},{"c":"I","v":"0.0","x":-3.75,"y":-49.86},{"c":"I","v":"0.0","x":-4,"y":-49.52},{"c":"I","v":"0.0","x":-4.27,"y":-49.45},{"c":"I","v":"0.0","x":-4.27,"y":-48.76},
{"c":"J","v":"10.0","x":15.24,"y":-31.69},{"c":"J","v":"10.0","x":14.72,"y":-31.94},{"c":"J","v":"10.0","x":14.59,"y":-32.45},{"c":"J","v":"10.0","x":14.85,"y":-33.02},{"c":"J","v":"10.0","x":14.59,"y":-33.34},{"c":"J","v":"10.0","x":14.79,"y":-33.78},{"c":"J","v":"10.0","x":14.59,"y":-34.29},{"c":"J","v":"10.0","x":14.46,"y":-34.29},{"c":"J","v":"10.0","x":14.4,"y":-33.91},{"c":"J","v":"10.0","x":14,"y":-33.87},{"c":"J","v":"10.0","x":13.75,"y":-33.57},{"c":"J","v":"10.0","x":13.42,"y":-33.78},{"c":"J","v":"10.0","x":13.42,"y":-34.73},{"c":"J","v":"10.0","x":12.96,"y":-35.37},{"c":"J","v":"10.0","x":12.51,"y":-35.94},{"c":"J","v":"10.0","x":12.57,"y":-36.89},{"c":"J","v":"10.0","x":12.83,"y":-37.65},{"c":"J","v":"10.0","x":12.64,"y":-37.91},{"c":"J","v":"10.0","x":12.18,"y":-38.54},{"c":"J","v":"10.0","x":11.66,"y":-38.86},{"c":"J","v":"10.0","x":11.47,"y":-39.43},{"c":"J","v":"10.0","x":11.6,"y":-40.57},{"c":"J","v":"10.0","x":12.25,"y":-41.59},{"c":"J","v":"10.0","x":12.51,"y":-41.59},{"c":"J","v":"10.0","x":13.42,"y":-40.63},{"c":"J","v":"10.0","x":14,"y":-40.19},{"c":"J","v":"10.0","x":14.2,"y":-39.81},{"c":"J","v":"10.0","x":14.07,"y":-39.56},{"c":"J","v":"10.0","x":14.33,"y":-39.3},{"c":"J","v":"10.0","x":14.72,"y":-39.53},{"c":"J","v":"10.0","x":14.4,"y":-39.75},{"c":"J","v":"10.0","x":15.05,"y":-40.32},{"c":"J","v":"10.0","x":15.76,"y":-41.4},{"c":"J","v":"10.0","x":16.22,"y":-40.82},{"c":"J","v":"10.0","x":16.93,"y":-40.25},{"c":"J","v":"10.0","x":17,"y":-39.43},{"c":"J","v":"10.0","x":17.19,"y":-39.24},{"c":"J","v":"10.0","x":17.19,"y":-38.54},{"c":"J","v":"10.0","x":16.93,"y":-38.16},{"c":"J","v":"10.0","x":16.87,"y":-37.65},{"c":"J","v":"10.0","x":17.19,"y":-36.13},{"c":"J","v":"10.0","x":16.93,"y":-35.49},{"c":"J","v":"10.0","x":16.54,"y":-34.61},{"c":"J","v":"10.0","x":15.96,"y":-34.29},{"c":"J","v":"10.0","x":15.89,"y":-34.04},{"c":"J","v":"10.0","x":16.24,"y":-33.34},{"c":"J","v":"10.0","x":15.89,"y":-32.96},{"c":"J","v":"10.0","x":15.76,"y":-32.32},{"c":"J","v":"10.0","x":15.24,"y":-31.69},
{"c":"K","v":"-20.0","x":17.13,"y":-44.23},{"c":"K","v":"-20.0","x":17.71,"y":-43.97},{"c":"K","v":"-20.0","x":18.88,"y":-42.79},{"c":"K","v":"-20.0","x":19.01,"y":-42.47},{"c":"K","v":"-20.0","x":19.01,"y":-42.06},{"c":"K","v":"-20.0","x":19.53,"y":-42.03},
{"c":"L","v":"-20.0","x":11.6,"y":-47.74},{"c":"L","v":"-20.0","x":11.79,"y":-47.61},
{"c":"L2","v":"-20.0","x":12.05,"y":-47.45},{"c":"L2","v":"-20.0","x":12.64,"y":-46.85},{"c":"L2","v":"-20.0","x":12.99,"y":-46.79},
{"c":"M","v":"-20.0","x":15.05,"y":-45.96},{"c":"M","v":"-20.0","x":15.31,"y":-45.71},{"c":"M","v":"-20.0","x":15.57,"y":-45.71},{"c":"M","v":"-20.0","x":15.76,"y":-45.52},
{"c":"N","v":"-20.0","x":19.47,"y":-40.93},{"c":"N","v":"-20.0","x":19.53,"y":-41.21},
{"c":"O","v":"0.0","x":-5,"y":-32.2},{"c":"O","v":"0.0","x":-4.59,"y":-32.51},{"c":"O","v":"0.0","x":-4.59,"y":-33.08},{"c":"O","v":"0.0","x":-4.85,"y":-33.59},{"c":"O","v":"0.0","x":-5,"y":-33.85},
{"c":"O2","v":"0.0","x":-5,"y":-33.97},{"c":"O2","v":"0.0","x":-4.59,"y":-33.57},
{"c":"Da","v":"-5.0","x":-4.2,"y":-25.91},{"c":"Da","v":"-5.0","x":-4.27,"y":-26.42},{"c":"Da","v":"-5.0","x":-4.2,"y":-27.06},{"c":"Da","v":"-5.0","x":-3.81,"y":-27.25},{"c":"Da","v":"-5.0","x":-3.16,"y":-26.74},{"c":"Da","v":"-5.0","x":-3.22,"y":-26.17},{"c":"Da","v":"-5.0","x":-3.68,"y":-25.79},
{"c":"Db","v":"-5.0","x":-5,"y":-28.9},{"c":"Db","v":"-5.0","x":-4.72,"y":-28.96},{"c":"Db","v":"-5.0","x":-3.75,"y":-29.85},{"c":"Db","v":"-5.0","x":-3.45,"y":-30.48},{"c":"Db","v":"-5.0","x":-3.45,"y":-31.05},{"c":"Db","v":"-5.0","x":-3.61,"y":-31.62},{"c":"Db","v":"-5.0","x":-4.04,"y":-32.04},{"c":"Db","v":"-5.0","x":-4.27,"y":-32.51},{"c":"Db","v":"-5.0","x":-4.29,"y":-33.08},
{"c":"Dc","v":"-5.0","x":-2.51,"y":-29.91},{"c":"Dc","v":"-5.0","x":-1.99,"y":-29.38},{"c":"Dc","v":"-5.0","x":-1.63,"y":-29.78},{"c":"Dc","v":"-5.0","x":-1.66,"y":-30.42},{"c":"Dc","v":"-5.0","x":-2.18,"y":-30.42},
{"c":"Dd1","v":"-5.0","x":5.03,"y":-27.25},{"c":"Dd1","v":"-5.0","x":6.01,"y":-25.79},{"c":"Dd1","v":"-5.0","x":6.53,"y":-25.66},{"c":"Dd1","v":"-5.0","x":6.98,"y":-25.85},{"c":"Dd1","v":"-5.0","x":7.57,"y":-26},{"c":"Dd1","v":"-5.0","x":8.09,"y":-26},{"c":"Dd1","v":"-5.0","x":8.67,"y":-26.1},{"c":"Dd1","v":"-5.0","x":9.13,"y":-25.91},{"c":"Dd1","v":"-5.0","x":9.71,"y":-26.04},{"c":"Dd1","v":"-5.0","x":10.1,"y":-26.46},{"c":"Dd1","v":"-5.0","x":10.6,"y":-26.68},{"c":"Dd1","v":"-5.0","x":10.88,"y":-26.8},{"c":"Dd1","v":"-5.0","x":11.12,"y":-26.71},
{"c":"Dd1b","v":"-5.0","x":11.25,"y":-26.13},{"c":"Dd1b","v":"-5.0","x":11.25,"y":-25.6},
{"c":"Dd2","v":"-5.0","x":4.77,"y":-27.75},{"c":"Dd2","v":"-5.0","x":4.58,"y":-28.2},{"c":"Dd2","v":"-5.0","x":3.99,"y":-28.52},{"c":"Dd2","v":"-5.0","x":3.54,"y":-28.67},{"c":"Dd2","v":"-5.0","x":3.08,"y":-28.9},{"c":"Dd2","v":"-5.0","x":2.89,"y":-29.4},
{"c":"Dd3","v":"-5.0","x":2.24,"y":-29.97},{"c":"Dd3","v":"-5.0","x":2.43,"y":-30.19},{"c":"Dd3","v":"-5.0","x":2.89,"y":-30.36},{"c":"Dd3","v":"-5.0","x":3.34,"y":-30.04},{"c":"Dd3","v":"-5.0","x":4.19,"y":-29.4},{"c":"Dd3","v":"-5.0","x":4.71,"y":-28.96},{"c":"Dd3","v":"-5.0","x":5.16,"y":-28.9},{"c":"Dd3","v":"-5.0","x":5.81,"y":-28.77},{"c":"Dd3","v":"-5.0","x":6.2,"y":-28.45},{"c":"Dd3","v":"-5.0","x":7.24,"y":-28.2},{"c":"Dd3","v":"-5.0","x":7.83,"y":-28.03},{"c":"Dd3","v":"-5.0","x":8.8,"y":-28.03},{"c":"Dd3","v":"-5.0","x":9,"y":-28.32},
{"c":"De","v":"-5.0","x":8.61,"y":-28.67},{"c":"De","v":"-5.0","x":8.28,"y":-28.83},{"c":"De","v":"-5.0","x":7.63,"y":-29.15},{"c":"De","v":"-5.0","x":7.24,"y":-29.51},
{"c":"De2","v":"-5.0","x":7.5,"y":-30.16},{"c":"De2","v":"-5.0","x":7.83,"y":-30.57},{"c":"De2","v":"-5.0","x":8.28,"y":-30.99},{"c":"De2","v":"-5.0","x":8.57,"y":-31.37},{"c":"De2","v":"-5.0","x":8.8,"y":-32},{"c":"De2","v":"-5.0","x":8.93,"y":-32.58},{"c":"De2","v":"-5.0","x":9.06,"y":-33.21},{"c":"De2","v":"-5.0","x":8.93,"y":-33.65},{"c":"De2","v":"-5.0","x":8.74,"y":-34.29},{"c":"De2","v":"-5.0","x":9,"y":-34.73},{"c":"De2","v":"-5.0","x":9.19,"y":-35.3},{"c":"De2","v":"-5.0","x":9.45,"y":-35.75},{"c":"De2","v":"-5.0","x":9.39,"y":-36.45},{"c":"De2","v":"-5.0","x":9.65,"y":-36.83},
{"c":"De3","v":"-5.0","x":9.3,"y":-37.4},{"c":"De3","v":"-5.0","x":8.93,"y":-37.59},{"c":"De3","v":"-5.0","x":8.44,"y":-38.1},{"c":"De3","v":"-5.0","x":8.02,"y":-38.48},{"c":"De3","v":"-5.0","x":7.83,"y":-39.05},{"c":"De3","v":"-5.0","x":7.87,"y":-39.56},{"c":"De3","v":"-5.0","x":7.76,"y":-40.19},{"c":"De3","v":"-5.0","x":7.44,"y":-40.51},
{"c":"Df","v":"-5.0","x":6.85,"y":-40.67},{"c":"Df","v":"-5.0","x":6.53,"y":-41.01},{"c":"Df","v":"-5.0","x":5.81,"y":-40.76},{"c":"Df","v":"-5.0","x":5.36,"y":-40.72},{"c":"Df","v":"-5.0","x":4.84,"y":-40.51},{"c":"Df","v":"-5.0","x":4.38,"y":-40.38},{"c":"Df","v":"-5.0","x":4.25,"y":-40.7},{"c":"Df","v":"-5.0","x":4.12,"y":-41.14},{"c":"Df","v":"-5.0","x":3.47,"y":-41.4},{"c":"Df","v":"-5.0","x":3.21,"y":-41.78},{"c":"Df","v":"-5.0","x":2.98,"y":-42.32},{"c":"Df","v":"-5.0","x":2.56,"y":-42.7},{"c":"Df","v":"-5.0","x":1.98,"y":-42.86},{"c":"Df","v":"-5.0","x":1.59,"y":-43.24},{"c":"Df","v":"-5.0","x":1.13,"y":-43.68},{"c":"Df","v":"-5.0","x":1.03,"y":-44.19},{"c":"Df","v":"-5.0","x":1.07,"y":-44.89},{"c":"Df","v":"-5.0","x":0.81,"y":-45.29},{"c":"Df","v":"-5.0","x":0.38,"y":-45.52},{"c":"Df","v":"-5.0","x":-0.07,"y":-45.49},{"c":"Df","v":"-5.0","x":-0.56,"y":-44.99},{"c":"Df","v":"-5.0","x":-0.95,"y":-44.57},{"c":"Df","v":"-5.0","x":-1.47,"y":-44.34},{"c":"Df","v":"-5.0","x":-1.99,"y":-44.34},{"c":"Df","v":"-5.0","x":-2.51,"y":-44.1},{"c":"Df","v":"-5.0","x":-2.57,"y":-44},{"c":"Df","v":"-5.0","x":-2.31,"y":-43.74},
{"c":"Dg","v":"-5.0","x":4.25,"y":-42.03},{"c":"Dg","v":"-5.0","x":3.86,"y":-42.45},{"c":"Dg","v":"-5.0","x":3.8,"y":-43.05},{"c":"Dg","v":"-5.0","x":3.41,"y":-43.43},{"c":"Dg","v":"-5.0","x":3.41,"y":-44},{"c":"Dg","v":"-5.0","x":3.02,"y":-44.57},{"c":"Dg","v":"-5.0","x":3.02,"y":-44.76},{"c":"Dg","v":"-5.0","x":3.45,"y":-45.16},{"c":"Dg","v":"-5.0","x":3.99,"y":-45.27},{"c":"Dg","v":"-5.0","x":4.45,"y":-45.08},{"c":"Dg","v":"-5.0","x":4.97,"y":-44.76},{"c":"Dg","v":"-5.0","x":5.03,"y":-44.44},{"c":"Dg","v":"-5.0","x":5.23,"y":-44.44},
{"c":"Dg2","v":"-5.0","x":4.25,"y":-43.97},{"c":"Dg2","v":"-5.0","x":4.77,"y":-43.97},
{"c":"Dh","v":"-5.0","x":4.84,"y":-42.12},{"c":"Dh","v":"-5.0","x":5.36,"y":-42.16},{"c":"Dh","v":"-5.0","x":5.68,"y":-42.66},{"c":"Dh","v":"-5.0","x":6.01,"y":-43.17},{"c":"Dh","v":"-5.0","x":6.01,"y":-43.74},{"c":"Dh","v":"-5.0","x":5.75,"y":-44.25},
{"c":"Di","v":"-5.0","x":-4.66,"y":-40.51},{"c":"Di","v":"-5.0","x":-4.2,"y":-40.89},{"c":"Di","v":"-5.0","x":-3.68,"y":-41.14},{"c":"Di","v":"-5.0","x":-3.22,"y":-41.52},{"c":"Di","v":"-5.0","x":-2.38,"y":-42.22},{"c":"Di","v":"-5.0","x":-1.99,"y":-42.66},{"c":"Di","v":"-5.0","x":-2.05,"y":-43.17},
{"c":"Q","v":"5.0","x":-3.81,"y":-37.4},{"c":"Q","v":"5.0","x":-3.49,"y":-36.95},{"c":"Q","v":"5.0","x":-3.09,"y":-36.83},{"c":"Q","v":"5.0","x":-2.38,"y":-36.64},{"c":"Q","v":"5.0","x":-1.86,"y":-36.19},{"c":"Q","v":"5.0","x":-1.73,"y":-35.49},{"c":"Q","v":"5.0","x":-1.53,"y":-35.11},{"c":"Q","v":"5.0","x":-1.14,"y":-34.35},{"c":"Q","v":"5.0","x":-0.56,"y":-33.46},{"c":"Q","v":"5.0","x":0.55,"y":-32.58},{"c":"Q","v":"5.0","x":0.68,"y":-31.94},{"c":"Q","v":"5.0","x":1.13,"y":-31.5},{"c":"Q","v":"5.0","x":1.78,"y":-31.24},{"c":"Q","v":"5.0","x":2.56,"y":-31.43},{"c":"Q","v":"5.0","x":3.15,"y":-32.2},{"c":"Q","v":"5.0","x":2.69,"y":-32.83},{"c":"Q","v":"5.0","x":2.5,"y":-33.72},{"c":"Q","v":"5.0","x":3.34,"y":-33.91},{"c":"Q","v":"5.0","x":4.12,"y":-34.23},{"c":"Q","v":"5.0","x":4.77,"y":-33.97},{"c":"Q","v":"5.0","x":5.49,"y":-34.35},{"c":"Q","v":"5.0","x":5.75,"y":-34.8},{"c":"Q","v":"5.0","x":6.4,"y":-34.86},{"c":"Q","v":"5.0","x":6.27,"y":-35.56},{"c":"Q","v":"5.0","x":5.49,"y":-35.18},{"c":"Q","v":"5.0","x":4.9,"y":-35.24},{"c":"Q","v":"5.0","x":4.71,"y":-36.13},{"c":"Q","v":"5.0","x":3.99,"y":-36.57},{"c":"Q","v":"5.0","x":3.41,"y":-37.21},{"c":"Q","v":"5.0","x":2.82,"y":-37.59},{"c":"Q","v":"5.0","x":2.43,"y":-37.75},{"c":"Q","v":"5.0","x":2.04,"y":-38.01},{"c":"Q","v":"5.0","x":1.98,"y":-38.92},{"c":"Q","v":"5.0","x":1.91,"y":-39.3},{"c":"Q","v":"5.0","x":1.78,"y":-39.75},{"c":"Q","v":"5.0","x":1.39,"y":-39.91},{"c":"Q","v":"5.0","x":1,"y":-40},{"c":"Q","v":"5.0","x":0.61,"y":-39.87},{"c":"Q","v":"5.0","x":0.35,"y":-39.43},{"c":"Q","v":"5.0","x":0.03,"y":-39.3},{"c":"Q","v":"5.0","x":-0.43,"y":-39.37},{"c":"Q","v":"5.0","x":-0.75,"y":-39.68},{"c":"Q","v":"5.0","x":-1.01,"y":-39.94},{"c":"Q","v":"5.0","x":-1.4,"y":-40.13},{"c":"Q","v":"5.0","x":-1.73,"y":-40.44},{"c":"Q","v":"5.0","x":-2.05,"y":-40.7},{"c":"Q","v":"5.0","x":-2.44,"y":-40.51},{"c":"Q","v":"5.0","x":-2.77,"y":-40.38},{"c":"Q","v":"5.0","x":-3.03,"y":-40.06},{"c":"Q","v":"5.0","x":-3.49,"y":-39.3},{"c":"Q","v":"5.0","x":-3.75,"y":-38.98},{"c":"Q","v":"5.0","x":-4,"y":-38.54},{"c":"Q","v":"5.0","x":-4,"y":-38.22},{"c":"Q","v":"5.0","x":-3.81,"y":-37.78},{"c":"Q","v":"5.0","x":-3.81,"y":-37.4},
{"c":"P","v":"5.0","x":-3.09,"y":-32.83},{"c":"P","v":"5.0","x":-2.7,"y":-32.83},{"c":"P","v":"5.0","x":-2.31,"y":-33.34},{"c":"P","v":"5.0","x":-2.05,"y":-33.72},{"c":"P","v":"5.0","x":-2.05,"y":-34.1},{"c":"P","v":"5.0","x":-2.51,"y":-34.46},{"c":"P","v":"5.0","x":-3.29,"y":-34.42},{"c":"P","v":"5.0","x":-3.61,"y":-33.91},{"c":"P","v":"5.0","x":-3.49,"y":-33.34},{"c":"P","v":"5.0","x":-3.09,"y":-32.83},
{"c":"T","v":"-15.0","x":-4.85,"y":-42.77},{"c":"T","v":"-15.0","x":-4.66,"y":-43.11},{"c":"T","v":"-15.0","x":-4.66,"y":-43.53},{"c":"T","v":"-15.0","x":-5,"y":-43.83},
{"c":"S","v":"-15.0","x":19.47,"y":-39.43},{"c":"S","v":"-15.0","x":19.21,"y":-39.66},{"c":"S","v":"-15.0","x":18.95,"y":-39.97},{"c":"S","v":"-15.0","x":18.75,"y":-40.34},{"c":"S","v":"-15.0","x":18.45,"y":-40.65},{"c":"S","v":"-15.0","x":18.3,"y":-41.01},{"c":"S","v":"-15.0","x":18.23,"y":-41.43},{"c":"S","v":"-15.0","x":18.01,"y":-41.75},{"c":"S","v":"-15.0","x":17.93,"y":-42.16},{"c":"S","v":"-15.0","x":17.84,"y":-42.54},{"c":"S","v":"-15.0","x":17.52,"y":-42.79},{"c":"S","v":"-15.0","x":17.22,"y":-43.02},{"c":"S","v":"-15.0","x":16.83,"y":-43.02},{"c":"S","v":"-15.0","x":16.44,"y":-43.05},{"c":"S","v":"-15.0","x":16.02,"y":-43.05},{"c":"S","v":"-15.0","x":15.72,"y":-43.24},{"c":"S","v":"-15.0","x":15.37,"y":-43.36},{"c":"S","v":"-15.0","x":14.98,"y":-43.51},{"c":"S","v":"-15.0","x":14.66,"y":-43.78},{"c":"S","v":"-15.0","x":14.33,"y":-43.9},{"c":"S","v":"-15.0","x":13.94,"y":-43.93},{"c":"S","v":"-15.0","x":13.61,"y":-44.1},{"c":"S","v":"-15.0","x":13.26,"y":-44.19},{"c":"S","v":"-15.0","x":12.9,"y":-44.31},{"c":"S","v":"-15.0","x":12.55,"y":-44.44},{"c":"S","v":"-15.0","x":12.18,"y":-44.63},{"c":"S","v":"-15.0","x":11.86,"y":-44.53},{"c":"S","v":"-15.0","x":11.6,"y":-44.25},{"c":"S","v":"-15.0","x":11.3,"y":-43.96},{"c":"S","v":"-15.0","x":11.43,"y":-43.58},{"c":"S","v":"-15.0","x":11.49,"y":-43.2},{"c":"S","v":"-15.0","x":11.34,"y":-42.83},{"c":"S","v":"-15.0","x":11.43,"y":-42.5},{"c":"S","v":"-15.0","x":11.17,"y":-42.22},{"c":"S","v":"-15.0","x":10.91,"y":-41.97},{"c":"S","v":"-15.0","x":10.56,"y":-41.75},{"c":"S","v":"-15.0","x":10.39,"y":-41.42},{"c":"S","v":"-15.0","x":10.43,"y":-41.01},{"c":"S","v":"-15.0","x":10.62,"y":-40.63},{"c":"S","v":"-15.0","x":10.82,"y":-40.32},{"c":"S","v":"-15.0","x":11.05,"y":-39.97},{"c":"S","v":"-15.0","x":11.14,"y":-39.59},{"c":"S","v":"-15.0","x":11.12,"y":-39.18},{"c":"S","v":"-15.0","x":11.01,"y":-38.79},{"c":"S","v":"-15.0","x":11.08,"y":-38.38},{"c":"S","v":"-15.0","x":10.95,"y":-38.01},{"c":"S","v":"-15.0","x":10.95,"y":-37.59},{"c":"S","v":"-15.0","x":10.72,"y":-37.27},{"c":"S","v":"-15.0","x":10.75,"y":-36.87},{"c":"S","v":"-15.0","x":10.78,"y":-36.45},{"c":"S","v":"-15.0","x":11.3,"y":-35.85},{"c":"S","v":"-15.0","x":11.34,"y":-35.41},{"c":"S","v":"-15.0","x":11.31,"y":-35.01},{"c":"S","v":"-15.0","x":11.08,"y":-34.67},{"c":"S","v":"-15.0","x":11.05,"y":-34.29},{"c":"S","v":"-15.0","x":10.88,"y":-33.91},{"c":"S","v":"-15.0","x":10.86,"y":-33.49},{"c":"S","v":"-15.0","x":10.72,"y":-33.11},{"c":"S","v":"-15.0","x":10.92,"y":-32.77},{"c":"S","v":"-15.0","x":11.12,"y":-32.42},{"c":"S","v":"-15.0","x":11.4,"y":-32.2},{"c":"S","v":"-15.0","x":11.69,"y":-31.92},{"c":"S","v":"-15.0","x":11.99,"y":-31.62},{"c":"S","v":"-15.0","x":12.38,"y":-31.6},{"c":"S","v":"-15.0","x":12.7,"y":-31.79},{"c":"S","v":"-15.0","x":12.99,"y":-31.62},{"c":"S","v":"-15.0","x":13.26,"y":-31.35},{"c":"S","v":"-15.0","x":13.58,"y":-31.18},{"c":"S","v":"-15.0","x":13.76,"y":-30.86},{"c":"S","v":"-15.0","x":13.68,"y":-30.52},{"c":"S","v":"-15.0","x":13.98,"y":-30.25},{"c":"S","v":"-15.0","x":14.27,"y":-30},{"c":"S","v":"-15.0","x":14.66,"y":-29.95},{"c":"S","v":"-15.0","x":15.05,"y":-29.85},{"c":"S","v":"-15.0","x":15.44,"y":-29.76},{"c":"S","v":"-15.0","x":15.8,"y":-29.68},{"c":"S","v":"-15.0","x":16.19,"y":-29.68},{"c":"S","v":"-15.0","x":16.45,"y":-29.94},{"c":"S","v":"-15.0","x":16.63,"y":-30.32},{"c":"S","v":"-15.0","x":16.64,"y":-30.74},{"c":"S","v":"-15.0","x":16.67,"y":-31.12},{"c":"S","v":"-15.0","x":16.77,"y":-31.5},{"c":"S","v":"-15.0","x":17.1,"y":-31.75},{"c":"S","v":"-15.0","x":17.43,"y":-31.88},{"c":"S","v":"-15.0","x":17.58,"y":-32.22},{"c":"S","v":"-15.0","x":17.88,"y":-32.45},{"c":"S","v":"-15.0","x":18.19,"y":-32.68},{"c":"S","v":"-15.0","x":18.55,"y":-32.74},{"c":"S","v":"-15.0","x":18.95,"y":-32.93}
],
"edge":[{"x":14.92,"y":-25.6},{"x":15.18,"y":-26.1},{"x":15.7,"y":-26.87},{"x":15.96,"y":-27.37},{"x":16.15,"y":-27.86},{"x":16.41,"y":-28.13},{"x":16.67,"y":-28.62},{"x":16.93,"y":-29.12},{"x":17.45,"y":-29.85},{"x":17.71,"y":-30.36},{"x":18.19,"y":-31.12},{"x":18.45,"y":-31.6},{"x":18.69,"y":-32.09},{"x":19.21,"y":-32.83},{"x":19.34,"y":-32.96},{"x":19.4,"y":-33.15},{"x":19.47,"y":-33.34}],
"notes":[{"x":9.13,"y":-14.55,"t":"Site : ETH"},{"x":9.13,"y":-16.52,"t":"Date : 920821"},{"x":9.13,"y":-18.54,"t":"Time : 1633 )UTC"},{"x":9.13,"y":-20.52,"t":"Product: PPI"},{"x":9.13,"y":-22.61,"t":"Elevation :\u00a0\u00a08.3°"}]
},
"resolve":{"axis":{"x":"independent","y":"independent"}},
"layer":[
{"data":{"name":"cells"},"mark":{"type":"rect","strokeWidth":0.5},"encoding":{
"x":{"field":"x","type":"quantitative","scale":{"domain":[-5,20],"nice":false,"zero":false},"axis":{"orient":"bottom","values":[-5,0,5,10,15,20],"labelExpr":"''+datum.value","title":"Distance East (km)","grid":false,"labelFont":"Liberation Serif","labelFontSize":45,"labelColor":"black","titleFont":"Liberation Serif","titleFontSize":46,"titleFontWeight":"normal","titleColor":"black","titlePadding":7,"labelPadding":27,"labelFlush":false,"labelOverlap":false,"tickSize":-13,"tickColor":"#222222","tickWidth":1.5,"domainColor":"#222222","domainWidth":2}},
"x2":{"field":"x2"},
"y":{"field":"y","type":"quantitative","scale":{"domain":[-50,-25],"nice":false,"zero":false},"axis":{"orient":"left","values":[-50,-45,-40,-35,-30,-25],"labelExpr":"''+datum.value","title":"Distance North (km)","grid":false,"labelFont":"Liberation Serif","labelFontSize":50,"labelColor":"black","titleFont":"Liberation Serif","titleFontSize":55,"titleFontWeight":"normal","titleColor":"black","titleX":-100,"titleY":306,"labelPadding":25,"labelFlush":true,"labelOverlap":false,"tickSize":-13,"tickColor":"#222222","tickWidth":1.5,"domainColor":"#222222","domainWidth":2,"labelOffset":{"condition":[{"test":"datum.value==-25","value":-12},{"test":"datum.value==-35","value":-3},{"test":"datum.value==-50","value":3}],"value":0}}},
"y2":{"field":"y2"},
"fill":{"field":"z","type":"nominal","scale":{"domain":["20","30","40","50"],"range":["#ededed","#bababa","#8a8a8a","#585858"]},"legend":{"orient":"none","legendX":199,"legendY":-335,"title":"Z (dBZ)","titleFont":"Liberation Serif","titleFontSize":36,"titleFontWeight":"normal","titleColor":"black","titlePadding":25,"padding":0,"labelFont":"Liberation Serif","labelFontSize":36,"labelColor":"black","labelAlign":"center","labelOffset":49,"symbolType":"M-1.183,-1H1.893V1H-1.183Z","symbolSize":2570,"symbolStrokeWidth":0,"rowPadding":-13.3,"encode":{"labels":{"update":{"dy":{"value":-20}}}}}},
"stroke":{"field":"z","type":"nominal","scale":{"domain":["20","30","40","50"],"range":["#ededed","#bababa","#8a8a8a","#585858"]},"legend":null}}},
{"data":{"name":"grid"},"transform":[{"window":[{"op":"row_number","as":"i"}]}],"mark":{"type":"line","stroke":"black","strokeWidth":1},"encoding":{
"x":{"field":"x","type":"quantitative","axis":{"orient":"top","values":[-5,0,5,10,15,20],"labels":false,"title":null,"grid":false,"tickSize":-13,"tickColor":"#222222","tickWidth":1.5,"domainColor":"#222222","domainWidth":2}},
"y":{"field":"y","type":"quantitative","axis":{"orient":"right","values":[-50,-45,-40,-35,-30,-25],"labels":false,"title":null,"grid":false,"tickSize":-13,"tickColor":"#222222","tickWidth":1.5,"domainColor":"#222222","domainWidth":2}},
"detail":{"field":"c"},"order":{"field":"i","type":"quantitative"}}},
{"data":{"name":"contours"},"transform":[{"window":[{"op":"row_number","as":"i"}]}],"mark":{"type":"line","stroke":"black","strokeWidth":3.5,"strokeJoin":"round"},"encoding":{
"x":{"field":"x","type":"quantitative","axis":null},"y":{"field":"y","type":"quantitative","axis":null},"detail":{"field":"c"},"order":{"field":"i","type":"quantitative"},
"strokeDash":{"field":"v","type":"nominal","scale":{"domain":["-20.0","-15.0","-10.0","-5.0","0.0","5.0","10.0"],"range":[[1,0],[4,8],[1,0],[15,11],[1,0],[18,7,4,7],[1,0]]},"legend":{"orient":"none","legendX":0,"legendY":-335,"title":"V (m s⁻¹)","titleFont":"Liberation Serif","titleFontSize":36,"titleFontWeight":"normal","titleColor":"black","titlePadding":19,"padding":0,"labelFont":"Liberation Serif","labelFontSize":35,"labelColor":"black","labelAlign":"center","labelOffset":95,"symbolType":"M-3.6,0H9.8","symbolSize":100,"symbolStrokeWidth":3,"symbolStrokeColor":"black","rowPadding":-3}}}},
{"data":{"values":[{"x":1.01,"y":-35.48,"x2":13.8,"y2":-36.47}]},"mark":{"type":"rule","color":"white","strokeWidth":8},"encoding":{"x":{"field":"x","type":"quantitative","axis":null},"y":{"field":"y","type":"quantitative","axis":null},"x2":{"field":"x2"},"y2":{"field":"y2"}}},
{"data":{"name":"edge"},"mark":{"type":"point","filled":true,"color":"black","size":32,"opacity":1},"encoding":{"x":{"field":"x","type":"quantitative","axis":null},"y":{"field":"y","type":"quantitative","axis":null}}},
{"data":{"name":"notes"},"mark":{"type":"text","align":"left","baseline":"middle","font":"Liberation Serif","fontSize":37,"color":"black"},"encoding":{"x":{"field":"x","type":"quantitative","axis":null},"y":{"field":"y","type":"quantitative","axis":null},"text":{"field":"t"}}},
{"data":{"values":[{"x":-10.06,"y":-16.1,"t":"a)"}]},"mark":{"type":"text","align":"left","baseline":"middle","font":"Liberation Serif","fontSize":60,"fontWeight":"bold","color":"black"},"encoding":{"x":{"field":"x","type":"quantitative","axis":null},"y":{"field":"y","type":"quantitative","axis":null},"text":{"field":"t"}}}
]}
